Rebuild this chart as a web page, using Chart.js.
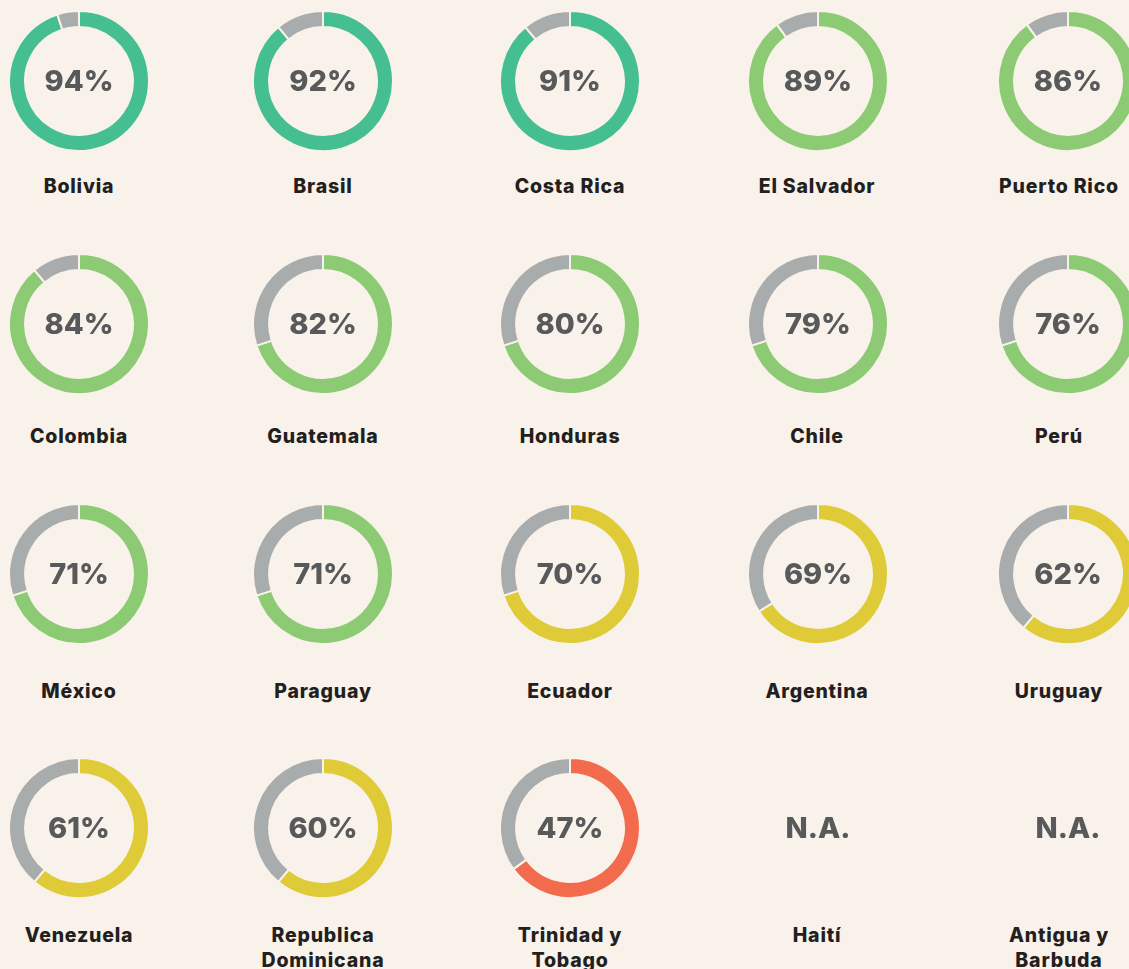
<!DOCTYPE html>
<html>
<head>
<meta charset="utf-8">
<script src="https://cdn.jsdelivr.net/npm/chart.js@4.4.0/dist/chart.umd.min.js"></script>
<style>
  html, body { margin: 0; padding: 0; background: #f9f2ea; }
  #board { position: relative; width: 1129px; height: 969px; overflow: hidden; background: #f9f2ea; }
  .cell canvas { position: absolute; }
  .pct {
    position: absolute; width: 160px; text-align: center;
    font-family: Inter, "Open Sans", sans-serif; font-weight: 800; font-size: 29px;
    color: #58595b; line-height: 36px;
  }
  .name {
    position: absolute; width: 200px; text-align: center;
    font-family: Inter, "Open Sans", sans-serif; font-weight: 800; font-size: 19.5px;
    letter-spacing: 0.8px;
    color: #231f20; line-height: 25px; white-space: pre-line;
  }
</style>
</head>
<body>
<div id="board"></div>
<script>
// countries, in reading order (5 per row)
const countries = [
  'Bolivia', 'Brasil', 'Costa Rica', 'El Salvador', 'Puerto Rico',
  'Colombia', 'Guatemala', 'Honduras', 'Chile', 'Perú',
  'México', 'Paraguay', 'Ecuador', 'Argentina', 'Uruguay',
  'Venezuela', 'Republica\nDominicana', 'Trinidad y\nTobago', 'Haití', 'Antigua y\nBarbuda'
];
// number printed in the middle of each ring (null = N.A.)
const percentLabels = [
  94, 92, 91, 89, 86,
  84, 82, 80, 79, 76,
  71, 71, 70, 69, 62,
  61, 60, 47, null, null
];
// share of the ring that is coloured, as drawn
const ringValues = [
  95, 89, 89, 90, 90,
  89, 70, 70, 70, 70,
  70, 70, 70, 66, 61,
  61, 61, 65, null, null
];

const colX = [79, 323, 570, 818, 1068];
const nameX = [79, 323, 570, 817, 1059];
const rowY = [81, 324, 574, 828];
const nameY = [186, 436, 691, 935];
const SIZE = 142;

const colorFor = (p) => {
  if (p >= 90) return '#45be92';
  if (p > 70) return '#8cca74';
  if (p >= 50) return '#dfca37';
  return '#f26b4d';
};

const board = document.getElementById('board');

countries.forEach((name, i) => {
  const cx = colX[i % 5];
  const nx = nameX[i % 5];
  const cy = rowY[Math.floor(i / 5)];
  const ny = nameY[Math.floor(i / 5)];
  const cell = document.createElement('div');
  cell.className = 'cell';
  board.append(cell);

  if (ringValues[i] !== null) {
    const cv = document.createElement('canvas');
    cv.width = SIZE; cv.height = SIZE;
    cv.style.width = SIZE + 'px'; cv.style.height = SIZE + 'px';
    cv.style.left = (cx - SIZE / 2) + 'px';
    cv.style.top = (cy - SIZE / 2) + 'px';
    cell.append(cv);
    new Chart(cv.getContext('2d'), {
      type: 'doughnut',
      data: {
        labels: ['Sí', 'No'],
        datasets: [{
          data: [ringValues[i], 100 - ringValues[i]],
          backgroundColor: [colorFor(percentLabels[i]), '#a9acad'],
          borderColor: '#f9f2ea',
          borderWidth: 2
        }]
      },
      options: {
        responsive: false,
        animation: false,
        cutout: '77%',
        layout: { padding: 0 },
        plugins: { legend: { display: false }, tooltip: { enabled: false } }
      }
    });
  }

  const pct = document.createElement('div');
  pct.className = 'pct';
  pct.textContent = percentLabels[i] === null ? 'N.A.' : percentLabels[i] + '%';
  pct.style.left = (cx - 80) + 'px';
  pct.style.top = (cy - 18) + 'px';
  cell.append(pct);

  const lbl = document.createElement('div');
  lbl.className = 'name';
  lbl.textContent = name;
  lbl.style.left = (nx - 100) + 'px';
  lbl.style.top = (ny - 12.5) + 'px';
  cell.append(lbl);
});
</script>
</body>
</html>
